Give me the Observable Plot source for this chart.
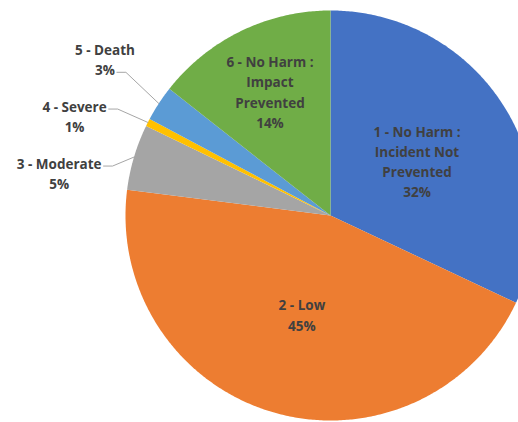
<!DOCTYPE html>
<html><head><meta charset="utf-8">
<script src="https://cdn.jsdelivr.net/npm/d3@7"></script>
<script src="https://cdn.jsdelivr.net/npm/@observablehq/plot@0.6"></script>
<style>html,body{margin:0;padding:0;background:#fff;overflow:hidden;}</style>
</head><body><div id="chart"></div>
<script>
// ---- data ----
const categories = ["1 - No Harm :\nIncident Not\nPrevented", "2 - Low", "3 - Moderate", "4 - Severe", "5 - Death", "6 - No Harm :\nImpact\nPrevented"];
const values = [32.0, 45.0, 5.2, 0.6, 2.8, 14.4];
const percentLabels = ["32%", "45%", "5%", "1%", "3%", "14%"];
const colors = ["#4472C4", "#ED7D31", "#A5A5A5", "#FFC000", "#5B9BD5", "#70AD47"];

// ---- layout ----
const W = 518, H = 422;
const CX = 330, CY = 215, R = 205;       // pixels
const FONT_SIZE = 13.5, LINE_H = 1.5;     // lineHeight in em
const FONT = `bold ${FONT_SIZE}px "Open Sans"`;
const px = FONT_SIZE * LINE_H;

const ctx = document.createElement("canvas").getContext("2d");
ctx.font = FONT;
const measure = s => ctx.measureText(s).width;

const data = categories.map((name, i) => ({name, value: values[i], pct: percentLabels[i], label: name + "\n" + percentLabels[i]}));
const arcs = d3.pie().sort(null).value(d => d.value)(data);

// unit coordinates (R = 1, y up); scales map them to pixels
const toU = (sx, sy) => ({ux: (sx - CX) / R, uy: (CY - sy) / R});
const polar = (a, r) => ({sx: CX + r * Math.sin(a), sy: CY - r * Math.cos(a)});

// slice polygons
const slicePts = [];
arcs.forEach(a => {
  slicePts.push({name: a.data.name, x: 0, y: 0});
  const n = Math.max(2, Math.ceil((a.endAngle - a.startAngle) / (Math.PI / 360)));
  for (let k = 0; k <= n; k++) {
    const t = a.startAngle + (a.endAngle - a.startAngle) * k / n;
    slicePts.push({name: a.data.name, x: Math.sin(t), y: Math.cos(t)});
  }
});

// label placement
const insideLabels = [], outsideLabels = [], leaders = [];
const angOf = (sx, sy) => { let t = Math.atan2(sx - CX, CY - sy); if (t < 0) t += 2 * Math.PI; return t; };
function fits(a, x, y, w, h) {
  const pts = [];
  for (const fx of [-0.5, 0, 0.5]) for (const fy of [-0.5, 0, 0.5]) pts.push([x + fx * w, y + fy * h]);
  return pts.every(([sx, sy]) => {
    const t = angOf(sx, sy), d = Math.hypot(sx - CX, sy - CY);
    return t >= a.startAngle && t <= a.endAngle && d <= R * 0.96;
  });
}
arcs.forEach(a => {
  const lines = a.data.label.split("\n");
  const w = d3.max(lines, measure) + 4, h = lines.length * px;
  const mid = (a.startAngle + a.endAngle) / 2;
  a.mid = mid; a.lines = lines; a.w = w; a.h = h;
  if (a.data.value >= 10) {
    let r = 0.5 * R, p = polar(mid, r);
    while (r < 0.9 * R && !fits(a, p.sx, p.sy, w, h)) { r += 2; p = polar(mid, r); }
    const u = toU(p.sx, p.sy);
    insideLabels.push({...u, label: a.data.label});
  } else {
    a.sy0 = polar(mid, 1.4 * R).sy;
    outsideLabels.push(a);
  }
});
outsideLabels.sort((p, q) => p.sy0 - q.sy0);
const GAP = 57;
outsideLabels.forEach((a, i) => {
  a.sy = i === 0 ? a.sy0 : Math.max(a.sy0, outsideLabels[i - 1].sy + GAP);
  const rl = 1.34 * R;
  const side = Math.sin(a.mid) < 0 ? -1 : 1;
  a.sx = CX + side * Math.sqrt(Math.max(0, rl * rl - (a.sy - CY) ** 2));
});
const outsideText = outsideLabels.map(a => ({...toU(a.sx, a.sy), label: a.data.label}));
outsideLabels.forEach(a => {
  const edge = polar(a.mid, R);
  const n = a.lines.length;
  const li = edge.sy - a.sy > 30 ? n - 1 : 0;
  const ay = a.sy + (li - (n - 1) / 2) * px + 3.5;
  const side = Math.sin(a.mid) < 0 ? 1 : -1;
  const ax = a.sx + side * (measure(a.lines[li]) / 2 + 2);
  const ex = ax + side * 9;
  [[ax, ay], [ex, ay], [edge.sx, edge.sy]].forEach(([sx, sy]) => leaders.push({name: a.data.name, ...toU(sx, sy)}));
});

const chart = Plot.plot({
  width: W, height: H,
  margin: 0,
  x: {axis: null, domain: [-CX / R, (W - CX) / R], range: [0, W]},
  y: {axis: null, domain: [CY / R, -(H - CY) / R], range: [0, H]},
  color: {domain: categories, range: colors},
  style: {background: "#fff", fontFamily: "Open Sans"},
  marks: [
    Plot.line(slicePts, {x: "x", y: "y", z: "name", fill: "name", stroke: "none", curve: "linear-closed"}),
    Plot.line(leaders, {x: "ux", y: "uy", z: "name", stroke: "#A6A6A6", strokeWidth: 1}),
    Plot.text(insideLabels, {x: "ux", y: "uy", text: "label", fill: "#404040", fontSize: FONT_SIZE, fontWeight: "bold", lineHeight: LINE_H, textAnchor: "middle", fontFamily: "Open Sans"}),
    Plot.text(outsideText, {x: "ux", y: "uy", text: "label", fill: "#404040", fontSize: FONT_SIZE, fontWeight: "bold", lineHeight: LINE_H, textAnchor: "middle", fontFamily: "Open Sans"})
  ]
});
document.getElementById("chart").appendChild(chart);
</script>
</body></html>
